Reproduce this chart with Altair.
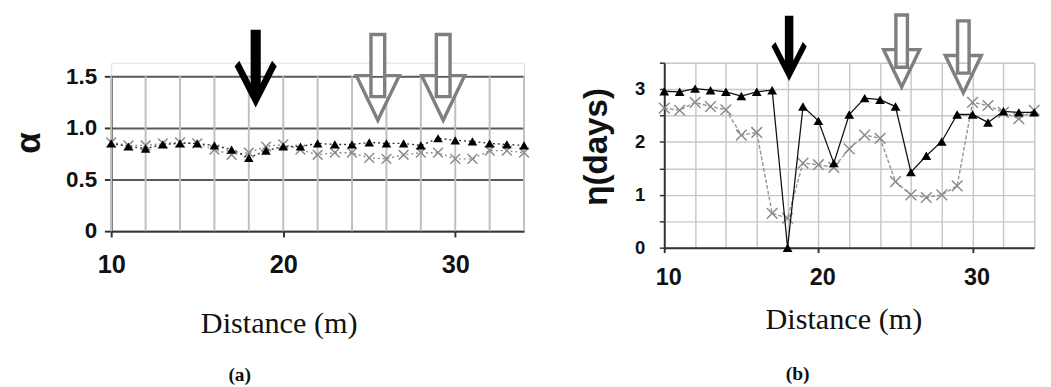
import altair as alt
import pandas as pd

# ---------------- data ----------------
distance = list(range(10, 35))

alpha_triangle = [0.85, 0.82, 0.80, 0.84, 0.85, 0.85, 0.83, 0.79, 0.71, 0.78,
                  0.82, 0.82, 0.85, 0.84, 0.84, 0.86, 0.85, 0.85, 0.83, 0.90,
                  0.88, 0.87, 0.85, 0.84, 0.83]
alpha_cross = [0.86, 0.83, 0.83, 0.85, 0.86, 0.85, 0.79, 0.74, 0.76, 0.82,
               0.84, 0.79, 0.74, 0.76, 0.76, 0.71, 0.70, 0.74, 0.76, 0.76,
               0.70, 0.70, 0.78, 0.78, 0.76]

eta_triangle = [2.96, 2.95, 3.01, 2.98, 2.95, 2.87, 2.95, 2.98, 0.00, 2.67,
                2.40, 1.60, 2.52, 2.83, 2.80, 2.67, 1.43, 1.74, 2.01, 2.52,
                2.52, 2.37, 2.58, 2.56, 2.56]
eta_cross = [2.64, 2.60, 2.75, 2.67, 2.61, 2.13, 2.18, 0.65, 0.56, 1.60,
             1.57, 1.52, 1.87, 2.13, 2.07, 1.25, 1.00, 0.95, 1.00, 1.17,
             2.75, 2.69, 2.56, 2.44, 2.60]

# arrow annotations (distance, value of arrow centre)
arrow_a_black_d = [18.4]
arrow_a_black_v = [1.575]
arrow_a_gray_d = [25.5, 29.3]
arrow_a_gray_v = [1.49, 1.49]
arrow_b_black_d = [18.1]
arrow_b_black_v = [3.77]
arrow_b_gray_d = [25.4, 29.4]
arrow_b_gray_v = [3.72, 3.61]

grid_x_values = list(range(10, 35, 2))
label_x_values = [10, 20, 30]

# ---------------- shapes ----------------
X_SHAPE = "M-1,-1L1,1M-1,1L1,-1"
BLACK_ARROW = ("M-0.13,-1L0.13,-1L0.13,0.37L0.42,-0.2L0.54,-0.06L0,1"
               "L-0.54,-0.06L-0.42,-0.2L-0.13,0.37Z")
HOLLOW_ARROW = ("M-0.16,-1L0.16,-1L0.16,-0.04L0.5,-0.04L0,1L-0.5,-0.04L-0.16,-0.04Z"
                "M-0.16,-0.04L-0.16,0.45L0.16,0.45L0.16,-0.04")

SANS = "Liberation Sans"
SERIF = "Liberation Serif"
INK = "#111111"

df_a = pd.DataFrame({"distance": distance, "triangle": alpha_triangle, "cross": alpha_cross})
df_b = pd.DataFrame({"distance": distance, "triangle": eta_triangle, "cross": eta_cross})
df_grid = pd.DataFrame({"g": grid_x_values})
arr_a_black = pd.DataFrame({"distance": arrow_a_black_d, "v": arrow_a_black_v})
arr_a_gray = pd.DataFrame({"distance": arrow_a_gray_d, "v": arrow_a_gray_v})
arr_b_black = pd.DataFrame({"distance": arrow_b_black_d, "v": arrow_b_black_v})
arr_b_gray = pd.DataFrame({"distance": arrow_b_gray_d, "v": arrow_b_gray_v})


def x_label_axis(font_size, pad, tick, offset, title_x, title_y):
    return alt.Axis(orient="bottom", values=label_x_values, grid=False, domainColor="#333",
                    domainWidth=2, tickColor="#333", tickWidth=2, tickSize=tick, labelFont=SANS,
                    labelFontSize=font_size, labelFontWeight="bold", labelColor=INK,
                    labelPadding=pad, labelFlush=False, labelOffset=offset,
                    title="Distance (m)", titleFont=SERIF, titleFontWeight="normal",
                    titleFontSize=31, titleColor=INK, titleX=title_x, titleY=title_y,
                    titleBaseline="alphabetic", titleAlign="center")


def x_grid_axis(color, width):
    return alt.Axis(orient="bottom", values=grid_x_values, grid=True, gridColor=color,
                    gridWidth=width, labels=False, ticks=False, domain=False, title=None)


# ---------------- panel (a) ----------------
A_H = 173  # plot group height; the data range starts 14 px below its top
xa = alt.Scale(domain=[10, 34], nice=False, zero=False)
ya = alt.Scale(domain=[0, 1.5], nice=False, range=[A_H, 14])

ay_a = alt.Axis(orient="left", values=[0, 0.5, 1, 1.5], grid=True, gridColor="#5a5a5a",
                gridWidth=2, domainColor="#333", domainWidth=2, tickColor="#333", tickWidth=2,
                tickSize=7, labelExpr="datum.value == 0 ? '0' : format(datum.value, '.1f')",
                labelFont=SANS, labelFontSize=23, labelFontWeight="bold", labelColor=INK,
                labelPadding=8, title="α", titleFont=SANS, titleFontSize=36,
                titleFontWeight="bold", titleColor=INK, titleX=-74, titleY=82,
                titleAngle=270, titleBaseline="alphabetic", titleAlign="center")

a_vgrid = alt.Chart(df_grid).mark_rule(color="#bfbfbf", strokeWidth=2).encode(
    x=alt.X("g:Q", scale=xa, axis=None),
    y=alt.Y(datum=0, scale=ya, axis=None),
    y2=alt.Y2(datum=1.5))

base_a = alt.Chart(df_a)
a_cross_line = base_a.mark_line(color="#8c8c8c", strokeWidth=1.4, strokeDash=[2, 3]).encode(
    x=alt.X("distance:Q", scale=xa, axis=None),
    y=alt.Y("cross:Q", scale=ya, axis=ay_a))
a_cross_pts = base_a.mark_point(shape=X_SHAPE, filled=False, color="#8a8a8a", strokeWidth=1.5,
                                size=100, opacity=1).encode(
    x=alt.X("distance:Q", scale=xa, axis=None),
    y=alt.Y("cross:Q", scale=ya, axis=None))
a_tri_line = base_a.mark_line(color="#333", strokeWidth=1.4, strokeDash=[2, 3]).encode(
    x=alt.X("distance:Q", scale=xa, axis=x_label_axis(26, 15, 6, 0, 172, 104)),
    y=alt.Y("triangle:Q", scale=ya, axis=None))
a_tri_pts = base_a.mark_point(shape="triangle-up", filled=True, color="black", size=95,
                              opacity=1).encode(
    x=alt.X("distance:Q", scale=xa, axis=None),
    y=alt.Y("triangle:Q", scale=ya, axis=None))
a_arrow_black = alt.Chart(arr_a_black).mark_point(shape=BLACK_ARROW, filled=True, color="black",
                                                  size=6400, opacity=1).encode(
    x=alt.X("distance:Q", scale=xa, axis=None),
    y=alt.Y("v:Q", scale=ya, axis=None))
a_arrow_gray = alt.Chart(arr_a_gray).mark_point(shape=HOLLOW_ARROW, filled=True, fill="white",
                                                stroke="#7f7f7f", strokeWidth=3.5, size=7744,
                                                opacity=1).encode(
    x=alt.X("distance:Q", scale=xa, axis=None),
    y=alt.Y("v:Q", scale=ya, axis=None))

panel_a = alt.layer(a_vgrid, a_cross_line, a_cross_pts, a_tri_line, a_tri_pts, a_arrow_black,
                    a_arrow_gray).resolve_axis(x="independent", y="independent").properties(
    width=424, height=A_H,
    title=alt.TitleParams(text="(a)", orient="bottom", anchor="middle", frame="group", dx=-80,
                          offset=28, font=SERIF, fontSize=20, fontWeight="bold", color=INK))

# ---------------- panel (b) ----------------
xb = alt.Scale(domain=[10, 34], nice=False, zero=False)
yb = alt.Scale(domain=[0, 3.5], nice=False)

ay_b = alt.Axis(orient="left", values=[0, 0.5, 1, 1.5, 2, 2.5, 3, 3.5], grid=True,
                gridColor="#c8c8c8", gridWidth=1.5, domainColor="#333", domainWidth=2,
                tickColor="#333", tickWidth=1.5, tickSize=5,
                labelExpr="datum.value % 1 == 0 ? format(datum.value, 'd') : ''",
                labelFont=SANS, labelFontSize=19, labelFontWeight="bold", labelColor=INK,
                labelPadding=15, title="η(days)", titleFont=SANS, titleFontSize=34,
                titleFontWeight="bold", titleColor=INK, titleX=-59, titleY=86,
                titleAngle=270, titleBaseline="alphabetic", titleAlign="center")

base_b = alt.Chart(df_b)
b_cross_line = base_b.mark_line(color="#999999", strokeWidth=1.5, strokeDash=[4, 2]).encode(
    x=alt.X("distance:Q", scale=xb, axis=x_grid_axis("#c8c8c8", 1.5)),
    y=alt.Y("cross:Q", scale=yb, axis=ay_b))
b_cross_pts = base_b.mark_point(shape=X_SHAPE, filled=False, color="#8a8a8a", strokeWidth=1.5,
                                size=120, opacity=1).encode(
    x=alt.X("distance:Q", scale=xb, axis=None),
    y=alt.Y("cross:Q", scale=yb, axis=None))
b_tri_line = base_b.mark_line(color="#111", strokeWidth=1.3).encode(
    x=alt.X("distance:Q", scale=xb, axis=x_label_axis(24, 14, 5, 4, 184, 83)),
    y=alt.Y("triangle:Q", scale=yb, axis=None))
b_tri_pts = base_b.mark_point(shape="triangle-up", filled=True, color="black", size=100,
                              opacity=1).encode(
    x=alt.X("distance:Q", scale=xb, axis=None),
    y=alt.Y("triangle:Q", scale=yb, axis=None))
b_arrow_black = alt.Chart(arr_b_black).mark_point(shape=BLACK_ARROW, filled=True, color="black",
                                                  size=4489, opacity=1).encode(
    x=alt.X("distance:Q", scale=xb, axis=None),
    y=alt.Y("v:Q", scale=yb, axis=None))
b_arrow_gray = alt.Chart(arr_b_gray).mark_point(shape=HOLLOW_ARROW, filled=True, fill="white",
                                                stroke="#7f7f7f", strokeWidth=3.5, size=5476,
                                                opacity=1).encode(
    x=alt.X("distance:Q", scale=xb, axis=None),
    y=alt.Y("v:Q", scale=yb, axis=None))

panel_b = alt.layer(b_cross_line, b_cross_pts, b_tri_line, b_tri_pts, b_arrow_black,
                    b_arrow_gray).resolve_axis(x="independent", y="independent").properties(
    width=380, height=190,
    title=alt.TitleParams(text="(b)", orient="bottom", anchor="middle", frame="group", dx=-53,
                          offset=31, font=SERIF, fontSize=20, fontWeight="bold", color=INK))

chart = alt.hconcat(panel_a, panel_b, spacing=48).properties(
    padding={"left": 2, "top": -6, "right": 0, "bottom": 0}
).configure_view(stroke=None).configure(background="white")

chart.save("out.html", embed_options={"renderer": "svg", "actions": False})
